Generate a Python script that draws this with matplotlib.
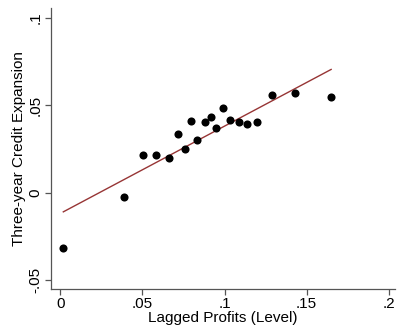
import matplotlib
matplotlib.use("Agg")
import matplotlib.pyplot as plt

# binned scatter points
profits = [0.0018, 0.039, 0.0504, 0.0583, 0.066, 0.0717, 0.0761, 0.0796, 0.0834, 0.0883,
           0.0916, 0.0948, 0.0991, 0.1033, 0.1086, 0.1135, 0.12, 0.1289, 0.1428, 0.1649]
credit = [-0.0318, -0.0023, 0.0215, 0.0215, 0.0197, 0.0335, 0.0248, 0.0411, 0.0301, 0.0402,
          0.0434, 0.0371, 0.0482, 0.0415, 0.0406, 0.0393, 0.0402, 0.0557, 0.0568, 0.0545]

# linear fit (from the underlying regression)
fit_intercept = -0.0118
fit_slope = 0.499

xticks = [0, 0.05, 0.1, 0.15, 0.2]
xticklabels = ["0", ".05", ".1", ".15", ".2"]
yticks = [-0.05, 0, 0.05, 0.1]
yticklabels = ["-.05", "0", ".05", ".1"]

plt.rcParams['font.family'] = ['Liberation Sans', 'DejaVu Sans']

fig = plt.figure(figsize=(3.97, 3.31), dpi=100)
ax = fig.add_axes([51 / 397, 42 / 331, 344 / 397, 281 / 331])

ax.scatter(profits, credit, s=34, color='black', zorder=3, linewidths=0)
x0, x1 = min(profits), max(profits)
ax.plot([x0, x1], [fit_intercept + fit_slope * x0, fit_intercept + fit_slope * x1],
        color='#973535', lw=1.0, zorder=2)

ax.set_xlim(-0.0057, 0.2038)
ax.set_ylim(-0.055, 0.1056)
ax.set_xticks(xticks)
ax.set_xticklabels(xticklabels)
ax.set_yticks(yticks)
ax.set_yticklabels(yticklabels, rotation=90, va='center')

for side in ['top', 'right']:
    ax.spines[side].set_visible(False)
for side in ['left', 'bottom']:
    ax.spines[side].set_color('#555555')
    ax.spines[side].set_linewidth(0.9)
ax.tick_params(direction='out', length=4, width=0.9, color='#555555', labelsize=11, pad=2)

ax.set_xlabel('Lagged Profits (Level)', fontsize=11, labelpad=0)
ax.set_ylabel('Three-year Credit Expansion', fontsize=11, labelpad=2)

fig.savefig('out.png', dpi=100)
